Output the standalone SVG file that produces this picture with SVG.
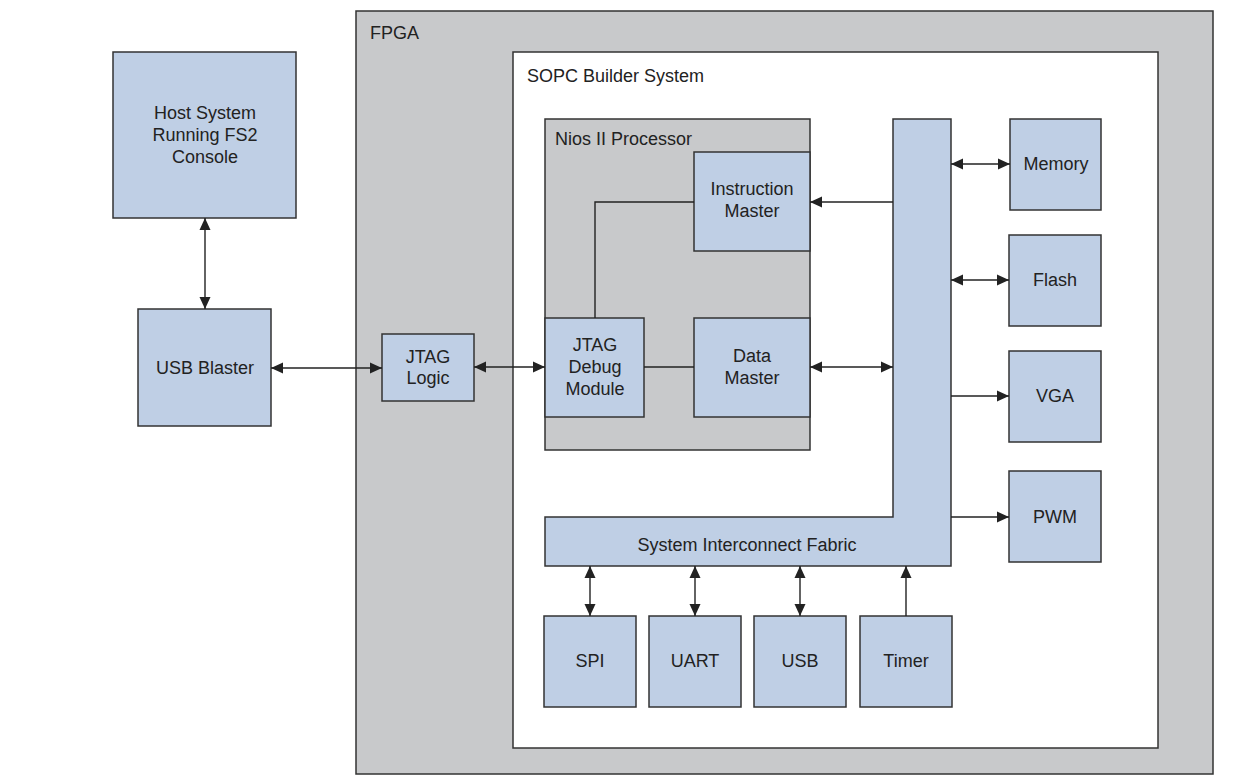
<svg xmlns="http://www.w3.org/2000/svg" width="1257" height="781" viewBox="0 0 1257 781">
<style>
.box{fill:#bfcfe5;stroke:#333;stroke-width:1.5}
.grey{fill:#c8c9cb;stroke:#333;stroke-width:1.5}
.white{fill:#fff;stroke:#333;stroke-width:1.5}
text{font-family:"Liberation Sans",Arial,sans-serif;font-size:18px;fill:#222}
.lbl{text-anchor:middle}
.c line,.c polyline{stroke:#222;stroke-width:1.4;fill:none}
</style>
<defs>
<marker id="ah" viewBox="0 0 12 12" refX="12" refY="6" markerWidth="12" markerHeight="12" markerUnits="userSpaceOnUse" orient="auto-start-reverse">
<path d="M0,0.5 L12,6 L0,11.5 z" fill="#222"/>
</marker>
</defs>
<rect width="1257" height="781" fill="#fff"/>

<g id="fpga">
<rect class="grey" x="356" y="11" width="857" height="763"/>
<text x="370" y="39">FPGA</text>
</g>
<g id="sopc">
<rect class="white" x="513" y="52" width="645" height="696"/>
<text x="527" y="82">SOPC Builder System</text>
</g>
<g id="nios">
<rect class="grey" x="545" y="119" width="265" height="331"/>
<text x="555" y="145">Nios II Processor</text>
</g>

<g id="host">
<rect class="box" x="113" y="52" width="183" height="166"/>
<text class="lbl" x="205" y="119">Host System</text>
<text class="lbl" x="205" y="141">Running FS2</text>
<text class="lbl" x="205" y="163">Console</text>
</g>
<g id="usbblaster">
<rect class="box" x="138" y="309" width="133" height="117"/>
<text class="lbl" x="205" y="374">USB Blaster</text>
</g>
<g id="jtaglogic">
<rect class="box" x="382" y="334" width="92" height="67"/>
<text class="lbl" x="428" y="363">JTAG</text>
<text class="lbl" x="428" y="384">Logic</text>
</g>
<g id="instr">
<rect class="box" x="694" y="152" width="116" height="99"/>
<text class="lbl" x="752" y="195">Instruction</text>
<text class="lbl" x="752" y="217">Master</text>
</g>
<g id="jtagdebug">
<rect class="box" x="545" y="318" width="99" height="99"/>
<text class="lbl" x="595" y="351">JTAG</text>
<text class="lbl" x="595" y="373">Debug</text>
<text class="lbl" x="595" y="395">Module</text>
</g>
<g id="datamaster">
<rect class="box" x="694" y="318" width="116" height="99"/>
<text class="lbl" x="752" y="362">Data</text>
<text class="lbl" x="752" y="384">Master</text>
</g>
<g id="fabric">
<path class="box" d="M893,119 H951 V566 H545 V517 H893 Z"/>
<text class="lbl" x="747" y="551">System Interconnect Fabric</text>
</g>
<g id="memory">
<rect class="box" x="1010" y="119" width="91" height="91"/>
<text class="lbl" x="1056" y="170">Memory</text>
</g>
<g id="flash">
<rect class="box" x="1009" y="235" width="92" height="91"/>
<text class="lbl" x="1055" y="286">Flash</text>
</g>
<g id="vga">
<rect class="box" x="1009" y="351" width="92" height="91"/>
<text class="lbl" x="1055" y="402">VGA</text>
</g>
<g id="pwm">
<rect class="box" x="1009" y="471" width="92" height="91"/>
<text class="lbl" x="1055" y="523">PWM</text>
</g>
<g id="spi">
<rect class="box" x="544" y="616" width="92" height="91"/>
<text class="lbl" x="590" y="667">SPI</text>
</g>
<g id="uart">
<rect class="box" x="649" y="616" width="92" height="91"/>
<text class="lbl" x="695" y="667">UART</text>
</g>
<g id="usb">
<rect class="box" x="754" y="616" width="92" height="91"/>
<text class="lbl" x="800" y="667">USB</text>
</g>
<g id="timer">
<rect class="box" x="860" y="616" width="92" height="91"/>
<text class="lbl" x="906" y="667">Timer</text>
</g>

<g id="connectors" class="c">
<line x1="205" y1="218" x2="205" y2="309" marker-start="url(#ah)" marker-end="url(#ah)"/>
<line x1="271" y1="368" x2="382" y2="368" marker-start="url(#ah)" marker-end="url(#ah)"/>
<line x1="474" y1="367" x2="545" y2="367" marker-start="url(#ah)" marker-end="url(#ah)"/>
<polyline points="595,318 595,202 694,202"/>
<line x1="644" y1="367" x2="694" y2="367"/>
<line x1="893" y1="202" x2="810" y2="202" marker-end="url(#ah)"/>
<line x1="810" y1="367" x2="893" y2="367" marker-start="url(#ah)" marker-end="url(#ah)"/>
<line x1="951" y1="164" x2="1010" y2="164" marker-start="url(#ah)" marker-end="url(#ah)"/>
<line x1="951" y1="280" x2="1009" y2="280" marker-start="url(#ah)" marker-end="url(#ah)"/>
<line x1="951" y1="396" x2="1009" y2="396" marker-end="url(#ah)"/>
<line x1="951" y1="517" x2="1009" y2="517" marker-end="url(#ah)"/>
<line x1="590" y1="566" x2="590" y2="616" marker-start="url(#ah)" marker-end="url(#ah)"/>
<line x1="695" y1="566" x2="695" y2="616" marker-start="url(#ah)" marker-end="url(#ah)"/>
<line x1="800" y1="566" x2="800" y2="616" marker-start="url(#ah)" marker-end="url(#ah)"/>
<line x1="906" y1="616" x2="906" y2="566" marker-end="url(#ah)"/>
</g>
</svg>
